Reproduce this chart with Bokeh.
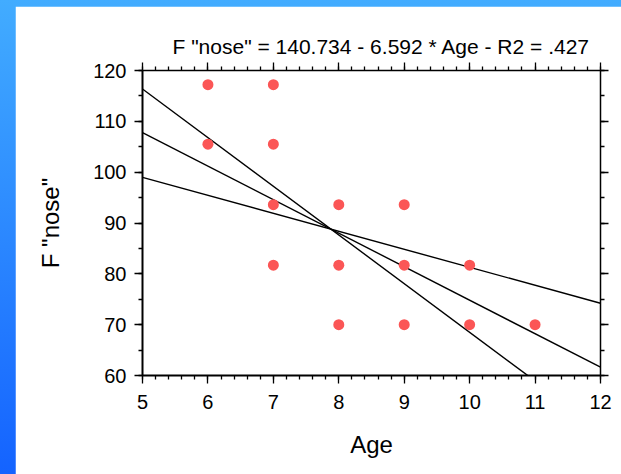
from bokeh.plotting import figure
from bokeh.layouts import column
from bokeh.models import (LinearAxis, SingleIntervalTicker, Range1d, ColumnDataSource, Title,
                          CustomJSTickFormatter)
from bokeh.embed import file_html
from bokeh.resources import INLINE

# ---- data ----
age = [6, 7, 6, 7, 7, 8, 9, 7, 8, 9, 10, 8, 9, 10, 11]
nose = [117.2, 117.2, 105.5, 105.5, 93.6, 93.6, 93.6, 81.7, 81.7, 81.7, 81.7, 70.0, 70.0, 70.0, 70.0]

line_intercepts = [164.20, 140.734, 116.69]
line_slopes = [-9.57, -6.592, -3.54]

title_text = 'F "nose" = 140.734 - 6.592 * Age - R2 = .427'
x_label = "Age"
y_label = 'F "nose"'

FONT = "Liberation Sans"

p = figure(width=606, height=468, output_backend="svg", toolbar_location=None,
           x_range=Range1d(5, 12), y_range=Range1d(60, 120),
           x_axis_type=None, y_axis_type=None,
           min_border_left=127, min_border_right=21, min_border_top=64, min_border_bottom=99)
p.margin = (6, 0, 0, 15)
p.outline_line_color = None
p.background_fill_color = "white"
p.border_fill_color = "white"
p.xgrid.visible = False
p.ygrid.visible = False

def style_axis(ax, labels=True, lw=1.5):
    ax.axis_line_width = lw
    ax.axis_line_color = "black"
    ax.major_tick_line_color = "black"
    ax.minor_tick_line_color = "black"
    ax.major_tick_line_width = 1.3
    ax.minor_tick_line_width = 1.3
    ax.major_tick_out = 8
    ax.major_tick_in = 0
    ax.minor_tick_out = 4
    ax.minor_tick_in = 0
    ax.major_label_text_font = FONT
    ax.major_label_text_color = "black"
    ax.major_label_text_font_size = "20px"
    if not labels:
        ax.formatter = CustomJSTickFormatter(code="return ''")
        ax.major_label_standoff = 0

xt = lambda: SingleIntervalTicker(interval=1, num_minor_ticks=5)
yt = lambda: SingleIntervalTicker(interval=10, num_minor_ticks=2)

xb = LinearAxis(ticker=xt(), axis_label=x_label)
style_axis(xb, True, 2)
xb.major_label_standoff = 11
xb.axis_label_text_font = FONT
xb.axis_label_text_font_size = "24px"
xb.axis_label_text_font_style = "normal"
xb.axis_label_text_color = "black"
xb.axis_label_standoff = 19
p.add_layout(xb, "below")

yl = LinearAxis(ticker=yt(), axis_label=y_label)
style_axis(yl, True, 2)
yl.major_label_standoff = 8
yl.axis_label_text_font = FONT
yl.axis_label_text_font_size = "24px"
yl.axis_label_text_font_style = "normal"
yl.axis_label_text_color = "black"
yl.axis_label_standoff = 26
p.add_layout(yl, "left")

xa = LinearAxis(ticker=xt())
style_axis(xa, False, 1.5)
p.add_layout(xa, "above")

yr = LinearAxis(ticker=yt())
style_axis(yr, False, 1.5)
p.add_layout(yr, "right")

t = Title(text=title_text, align="left", offset=30, text_font=FONT,
          text_font_size="21px", text_font_style="normal", text_color="black",
          text_line_height=1.5)
p.add_layout(t, "above")

# regression lines
for b0, b1 in zip(line_intercepts, line_slopes):
    xs = [5, 12]
    ys = [b0 + b1 * x for x in xs]
    p.line(xs, ys, line_color="black", line_width=1.4)

src = ColumnDataSource(dict(x=age, y=nose))
p.scatter("x", "y", source=src, size=11, fill_color="#fb5656", line_color=None)

layout = column(p, width=621, height=474,
                styles={"background": "linear-gradient(to bottom, #42acff, #1463ff)"})

open("out.html", "w").write(file_html(layout, INLINE))
